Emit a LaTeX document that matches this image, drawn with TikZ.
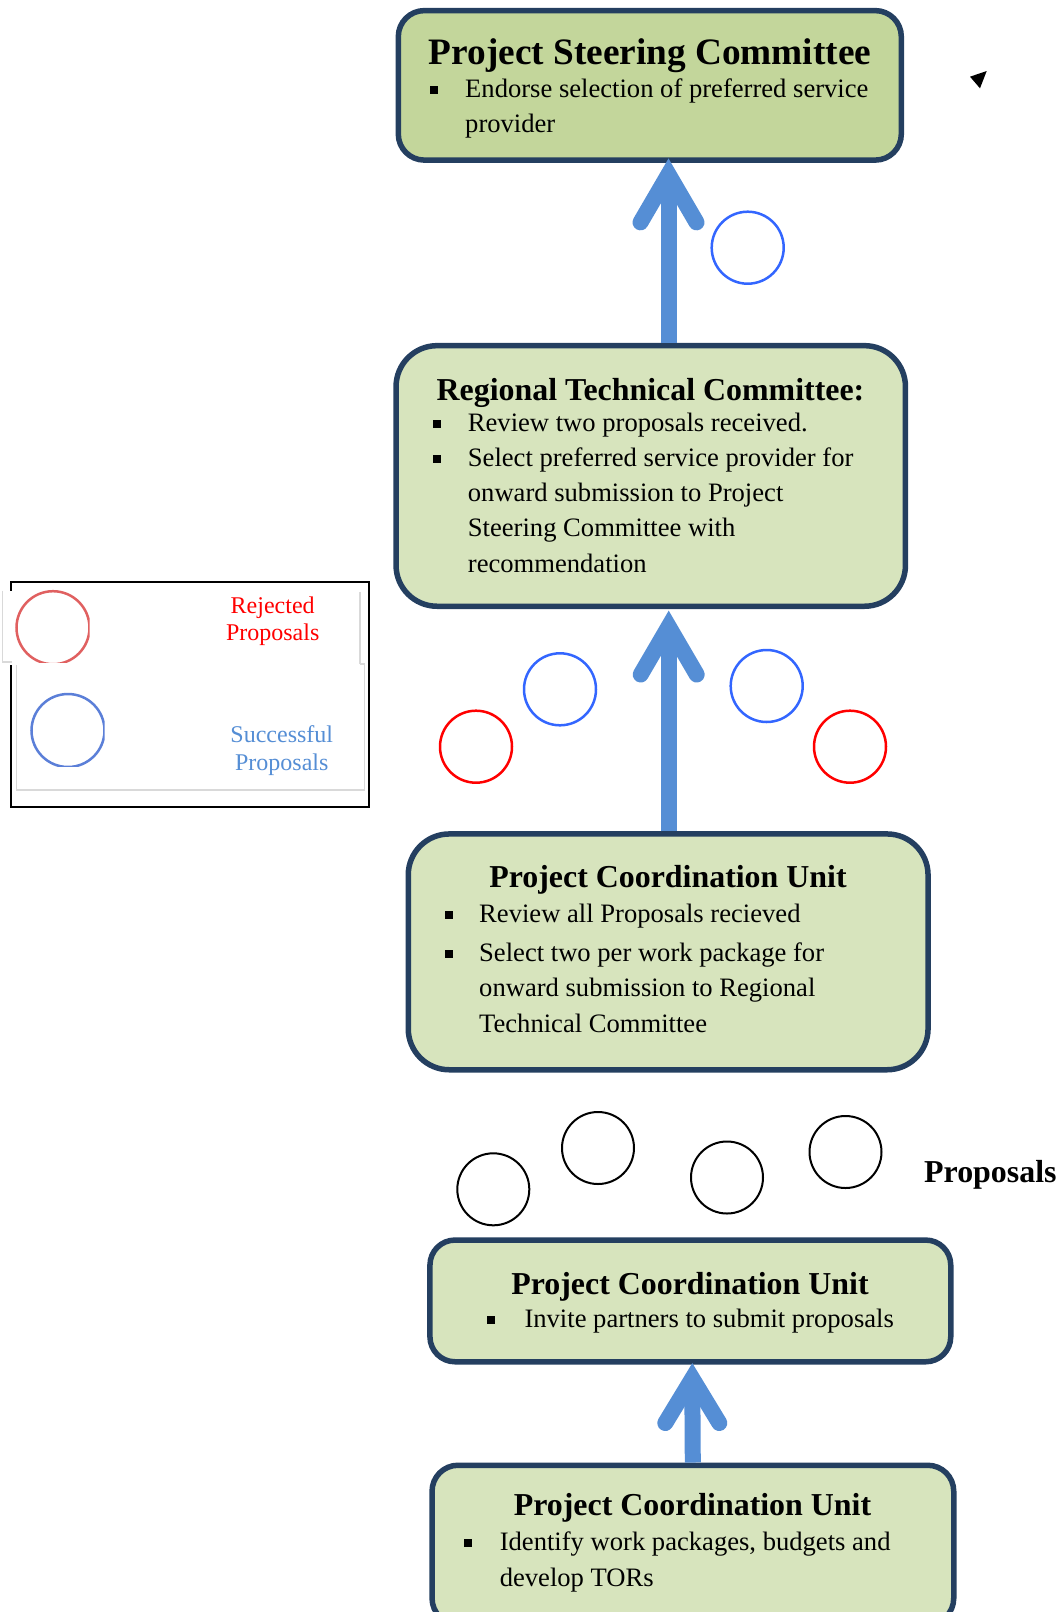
\documentclass[tikz,border=0pt]{standalone}
\usepackage{fontspec}
\setmainfont{Liberation Serif}
\usetikzlibrary{calc}
\definecolor{boxline}{HTML}{243F60}
\definecolor{fillA}{HTML}{C3D69B}
\definecolor{fillB}{HTML}{D7E4BD}
\definecolor{arrowblue}{HTML}{558ED5}
\definecolor{cblue}{HTML}{3366FF}
\definecolor{cred}{HTML}{FF0000}
\definecolor{legblue}{HTML}{558ED5}
\definecolor{legred}{HTML}{E06060}
\definecolor{legcblue}{HTML}{5B7FD8}
\definecolor{framegrey}{HTML}{D9D9D9}
\begin{document}
\begin{tikzpicture}[x=1pt,y=-1pt,
  stagebox/.style={draw=boxline,line width=5.5pt,fill=fillB,rectangle,inner sep=0pt},
  ttl/.style={font=\fontsize{31.9}{38}\selectfont\bfseries,inner sep=0pt,anchor=base},
  bodytxt/.style={font=\fontsize{26.6}{35}\selectfont,inner sep=0pt,anchor=base west},
  bul/.style={fill=black,rectangle,minimum size=8pt,inner sep=0pt},
  prop/.style={circle,draw=black,line width=2pt,minimum size=72pt,inner sep=0pt},
  okc/.style={circle,draw=cblue,line width=2.5pt,minimum size=72pt,inner sep=0pt},
  rejc/.style={circle,draw=cred,line width=2.5pt,minimum size=72pt,inner sep=0pt},
  shaft/.style={draw=arrowblue,line width=16pt},
  barb/.style={draw=arrowblue,line width=16pt,line cap=round,line join=miter},
  legtxt/.style={font=\fontsize{24}{28}\selectfont,inner sep=0pt,anchor=base}
]
\useasboundingbox (0,0) rectangle (1062,1612);
\clip (0,0) rectangle (1062,1612);

% ---------- boxes ----------
\node[stagebox,fill=fillA,rounded corners=26pt,minimum width=503pt,minimum height=149.5pt] (psc) at (649.8,85.35) {};
\node[stagebox,rounded corners=41pt,minimum width=509.4pt,minimum height=260.6pt] (rtc) at (650.75,475.95) {};
\node[stagebox,rounded corners=41pt,minimum width=519.8pt,minimum height=235.8pt] (pcu1) at (668.15,951.85) {};
\node[stagebox,rounded corners=25pt,minimum width=520.8pt,minimum height=121.7pt] (pcu2) at (690.35,1300.9) {};
\node[stagebox,rounded corners=26pt,minimum width=521.7pt,minimum height=159pt] (pcu3) at (692.9,1544.75) {};

% ---------- box texts ----------
\node[ttl,font=\fontsize{37.3}{44}\selectfont\bfseries] (psct) at (650,64.4) {Project Steering Committee};
\node[bul] (pscb1) at (433.8,90) {};
\node[bodytxt] (psc1) at (465,97.5) {Endorse selection of preferred service};
\node[bodytxt] (psc2) at (465,132) {provider};

\node[ttl] (rtct) at (650.5,400.5) {Regional Technical Committee:};
\node[bul] (rtcb1) at (437,423.5) {};
\node[bul] (rtcb2) at (437,459) {};
\node[bodytxt] (rtc1) at (467.7,431) {Review two proposals received.};
\node[bodytxt] (rtc2) at (467.7,466.5) {Select preferred service provider for};
\node[bodytxt] (rtc3) at (467.7,501.5) {onward submission to Project};
\node[bodytxt] (rtc4) at (467.7,536.5) {Steering Committee with};
\node[bodytxt] (rtc5) at (467.7,572) {recommendation};

\node[ttl] (pcu1t) at (668,887.5) {Project Coordination Unit};
\node[bul] (pcu1b1) at (449,915.2) {};
\node[bul] (pcu1b2) at (449,954.3) {};
\node[bodytxt] (pcu1l1) at (479,922.7) {Review all Proposals recieved};
\node[bodytxt] (pcu1l2) at (479,961.8) {Select two per work package for};
\node[bodytxt] (pcu1l3) at (479,996.7) {onward submission to Regional};
\node[bodytxt] (pcu1l4) at (479,1032.7) {Technical Committee};

\node[ttl] (pcu2t) at (690,1294) {Project Coordination Unit};
\node[bul] (pcu2b1) at (491.4,1320) {};
\node[bodytxt] (pcu2l1) at (524.3,1327.3) {Invite partners to submit proposals};

\node[ttl] (pcu3t) at (692.5,1515.6) {Project Coordination Unit};
\node[bul] (pcu3b1) at (467.7,1543.3) {};
\node[bodytxt] (pcu3l1) at (499.6,1550.8) {Identify work packages, budgets and};
\node[bodytxt] (pcu3l2) at (499.6,1586.7) {develop TORs};

% ---------- proposals ----------
\node[prop] (p1) at (493.3,1189.3) {};
\node[prop] (p2) at (598,1148) {};
\node[prop] (p3) at (727,1177.5) {};
\node[prop] (p4) at (845.5,1152) {};
\node[ttl,anchor=base west] (proplbl) at (924,1182.5) {Proposals};

\node[rejc] (r1) at (476,746.7) {};
\node[okc] (s1) at (560,689.3) {};
\node[okc] (s2) at (766.7,686) {};
\node[rejc] (r2) at (850,746.7) {};
\node[okc] (s3) at (747.7,247.7) {};

% ---------- arrows ----------
\coordinate (t1) at ($(668.5,0 |- psc.south)+(0,-4.5)$);
\coordinate (b1) at (668.5,0 |- rtc.north);
\draw[shaft] (b1) -- ($(t1)+(0,22)$);
\draw[barb] ($(t1)+(-28,64)$) -- ($(t1)+(0,16)$) -- ($(t1)+(28,64)$);

\coordinate (t2) at ($(668.7,0 |- rtc.south)+(0,1.5)$);
\coordinate (b2) at (668.7,0 |- pcu1.north);
\draw[shaft] (b2) -- ($(t2)+(0,22)$);
\draw[barb] ($(t2)+(-28,64)$) -- ($(t2)+(0,16)$) -- ($(t2)+(28,64)$);

\coordinate (t3) at ($(692.3,0 |- pcu2.south)+(0,-1.5)$);
\coordinate (b3) at (692.8,0 |- pcu3.north);
\draw[shaft] (b3) -- ($(t3)+(0,22)$);
\draw[barb] ($(t3)+(-27,60)$) -- ($(t3)+(0,15.5)$) -- ($(t3)+(27,60)$);

% small stray arrowhead
\fill[black] (970,76.7) -- (986.7,71) -- (980,88.3) -- cycle;

% ---------- legend ----------
\node[draw=black,line width=2pt,fill=white,rectangle,inner sep=0pt,outer sep=0pt,minimum width=357.7pt,minimum height=225pt] (legend) at (190.15,694.5) {};
\fill[white] (16.4,664) rectangle (364.3,790);
\draw[framegrey,line width=1.2pt] (360,664) -- (364.3,664) -- (364.3,790) -- (16.4,790) -- (16.4,664);
\fill[white] (2.7,590.7) rectangle (360,665);
\draw[framegrey,line width=1.2pt] (2.7,590.7) -- (2.7,662) -- (11.7,662);
\draw[framegrey,line width=1.2pt] (360,591.7) -- (360,664);
\begin{scope}
  \clip (0,580) rectangle (89.5,662.5);
  \node[circle,draw=legred,line width=2.5pt,minimum size=73pt,inner sep=0pt] (legr) at (53,627.7) {};
\end{scope}
\begin{scope}
  \clip (0,680) rectangle (104.5,766.5);
  \node[circle,draw=legcblue,line width=2.5pt,minimum size=73pt,inner sep=0pt] (legb) at (68,730.5) {};
\end{scope}
\node[legtxt,text=cred] (legr1) at (272.7,613.3) {Rejected};
\node[legtxt,text=cred] (legr2) at (272.7,640.7) {Proposals};
\node[legtxt,text=legblue] (legb1) at (281.8,742.7) {Successful};
\node[legtxt,text=legblue] (legb2) at (281.8,770) {Proposals};
\end{tikzpicture}
\end{document}
